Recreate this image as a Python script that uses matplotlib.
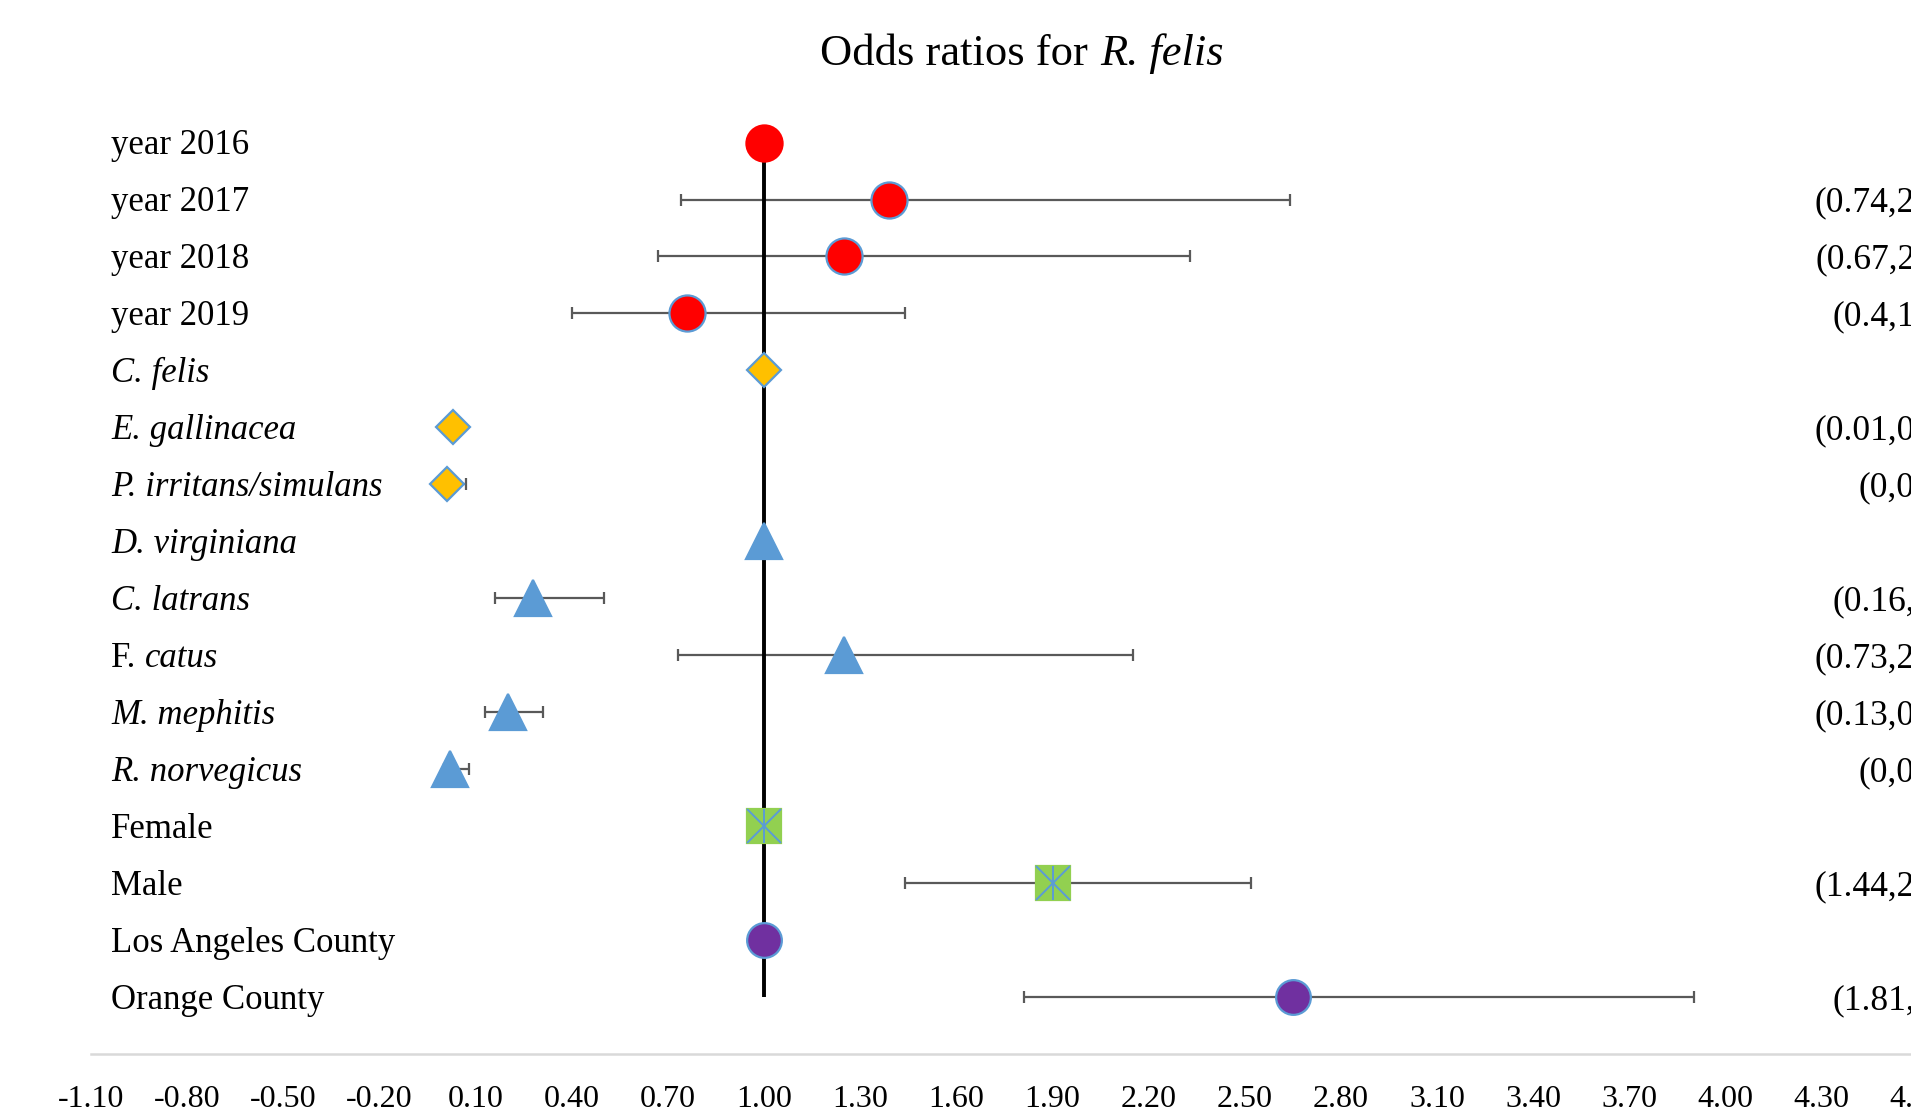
import numpy as np
import matplotlib
matplotlib.use("Agg")
import matplotlib.pyplot as plt
from matplotlib.transforms import ScaledTranslation

plt.rcParams['font.family'] = ['Liberation Serif', 'DejaVu Serif']

# data (odds ratio, lower CI, upper CI); reference rows have no CI
labels = ["year 2016", "year 2017", "year 2018", "year 2019",
          "C. felis", "E. gallinacea", "P. irritans/simulans",
          "D. virginiana", "C. latrans", "F. |catus", "M. mephitis", "R. norvegicus",
          "Female", "Male", "Los Angeles County", "Orange County"]
# 0 = upright, 1 = italic, 2 = upright genus + italic species (split at "|")
italic = [0, 0, 0, 0,
          1, 1, 1,
          1, 1, 2, 1, 1,
          0, 0, 0, 0]
odds = [1.00, 1.39, 1.25, 0.76,
        1.00, 0.03, 0.01,
        1.00, 0.28, 1.25, 0.20, 0.02,
        1.00, 1.90,
        1.00, 2.65]
ci_low = [np.nan, 0.74, 0.67, 0.40,
          np.nan, 0.01, 0.00,
          np.nan, 0.16, 0.73, 0.13, 0.00,
          np.nan, 1.44,
          np.nan, 1.81]
ci_high = [np.nan, 2.64, 2.33, 1.44,
           np.nan, 0.06, 0.07,
           np.nan, 0.50, 2.15, 0.31, 0.08,
           np.nan, 2.52,
           np.nan, 3.90]
group = ["year"] * 4 + ["flea"] * 3 + ["host"] * 5 + ["sex"] * 2 + ["county"] * 2

odds = np.array(odds)
ci_low = np.array(ci_low)
ci_high = np.array(ci_high)
y = np.arange(len(labels))

W, H = 1911, 1115
fig = plt.figure(figsize=(W / 100, H / 100), dpi=100)
ax = fig.add_axes([91 / W, 1 - 1054 / H, 1923 / W, (1054 - 85.6) / H])
ax.set_xlim(-1.1, 4.9)
ax.set_ylim(16, -1)

# error bars
has_ci = ~np.isnan(ci_low)
ax.errorbar(odds[has_ci], y[has_ci],
            xerr=[odds[has_ci] - ci_low[has_ci], ci_high[has_ci] - odds[has_ci]],
            fmt='none', ecolor='#595959', elinewidth=1.6, capsize=4, capthick=1.6,
            zorder=1)

# reference line at OR = 1
ax.vlines(1.0, y[0], y[-1], color='black', lw=2.8, zorder=2)

edge = '#5B9BD5'
styles = {
    "year": dict(marker='o', ms=26, mfc='#FF0000', mec=edge),
    "flea": dict(marker='D', ms=17.5, mfc='#FFC000', mec=edge),
    "host": dict(marker='^', ms=26, mfc='#5B9BD5', mec='#5B9BD5'),
    "sex": dict(marker='s', ms=24, mfc='#92D050', mec='#92D050'),
    "county": dict(marker='o', ms=25, mfc='#7030A0', mec=edge),
}
for i in range(len(labels)):
    st = dict(styles[group[i]])
    if i == 0:
        st['mec'] = st['mfc']
    ax.plot(odds[i], y[i], ls='none', mew=1.6, zorder=3, **st)
    if group[i] == "sex":
        ax.plot(odds[i], y[i], marker='x', ms=24, mec=edge, mew=1.4, ls='none', zorder=4)
        ax.plot(odds[i], y[i], marker='|', ms=24, mec=edge, mew=1.4, ls='none', zorder=4)

# category labels on the left (inside plot area)
fs = 25
off = ScaledTranslation(0, -0.338 * fs / 72, fig.dpi_scale_trans)
for i, lab in enumerate(labels):
    tr = ax.get_yaxis_transform() + off
    if italic[i] == 2:
        first, second = lab.split("|")
        t = ax.text(20 / 1923, y[i], first.strip(), transform=tr,
                    ha='left', va='baseline', fontsize=fs)
        ax.annotate(second, xy=(1, 0), xycoords=t, xytext=(fs * 0.25, 0),
                    textcoords='offset points', ha='left', va='bottom',
                    fontsize=fs, fontstyle='italic')
    else:
        ax.text(20 / 1923, y[i], lab, transform=tr, ha='left', va='baseline',
                fontsize=fs, fontstyle='italic' if italic[i] else 'normal')

# CI text on the right (runs past the right edge, as in the original)
fs2 = 25.5
off2 = ScaledTranslation(0, -0.338 * fs2 / 72, fig.dpi_scale_trans)
for i in range(len(labels)):
    if has_ci[i]:
        txt = "({:g},{:g})".format(round(ci_low[i], 2), round(ci_high[i], 2))
        ax.text(4.766, y[i], txt, transform=ax.transData + off2,
                ha='right', va='baseline', fontsize=fs2, clip_on=False)

ticks = np.round(np.arange(-1.1, 4.9 + 1e-6, 0.3), 2)
ax.set_xticks(ticks)
ax.set_xticklabels(["{:.2f}".format(t) for t in ticks], fontsize=23)
ax.tick_params(axis='x', length=0, pad=22)
ax.set_yticks([])
for s in ['top', 'left', 'right']:
    ax.spines[s].set_visible(False)
ax.spines['bottom'].set_color('#D9D9D9')
ax.spines['bottom'].set_linewidth(1.8)

# title: upright part + italic species name
fig.text(1088 / W, 1 - 65 / H, "Odds ratios for", ha='right', va='baseline', fontsize=32)
fig.text(1100 / W, 1 - 65 / H, "R. felis", ha='left', va='baseline', fontsize=32,
         fontstyle='italic')

fig.savefig('out.png', dpi=100)
